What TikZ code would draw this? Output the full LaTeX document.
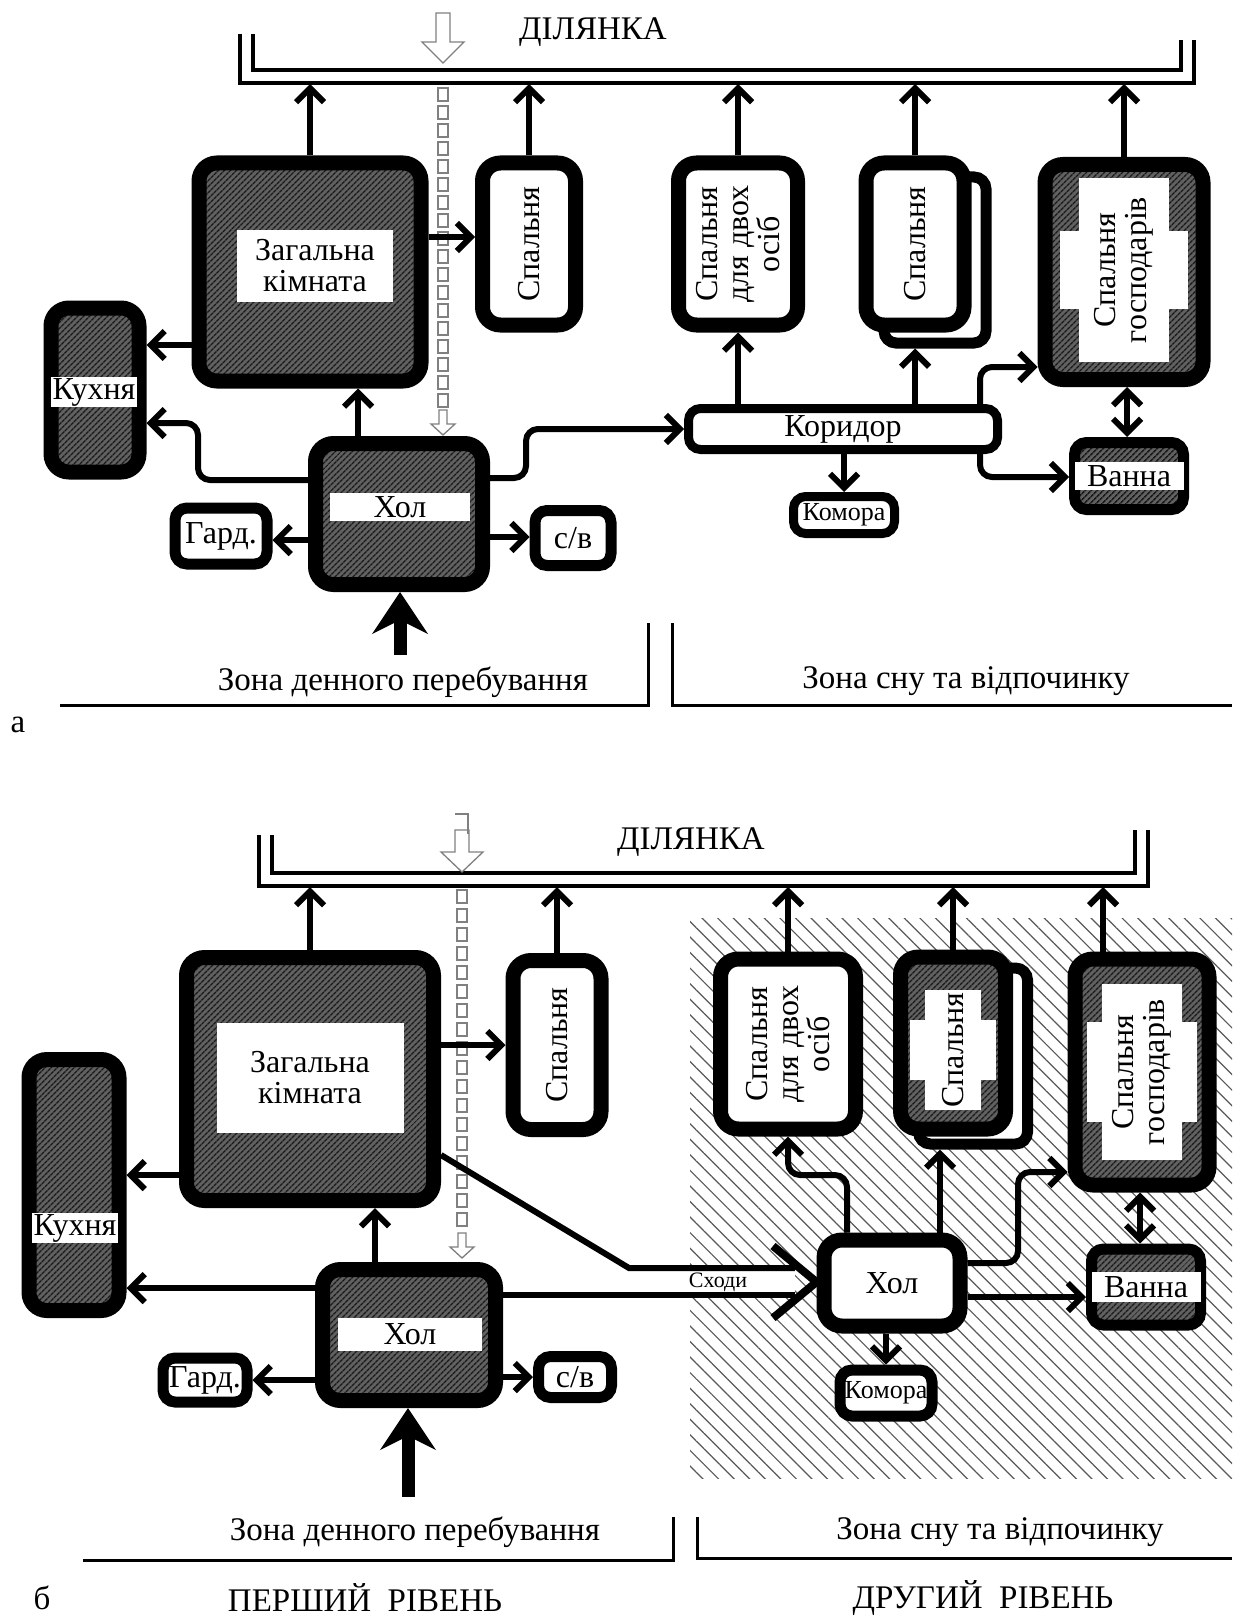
\documentclass[tikz,border=0pt]{standalone}
\usepackage{fontspec}
\setmainfont{Liberation Serif}
\usetikzlibrary{arrows.meta, patterns.meta, calc}

% white cross-shaped label field: centre, half widths/heights of both bars
\newcommand{\crosstag}[5]{%
  \fill[white] ($(#1)+(-#2,-#3)$) rectangle ($(#1)+(#2,#3)$);
  \fill[white] ($(#1)+(-#4,-#5)$) rectangle ($(#1)+(#4,#5)$);}

\begin{document}
\begin{tikzpicture}[
    x=1pt, y=-1pt, % one unit = one pixel, y downwards
    >={Straight Barb[length=14pt, width=28pt]}, % open arrow heads
    font=\fontsize{32}{31}\selectfont,
    room/.style={draw, line width=15pt, rounded corners=18pt, fill=white, inner sep=0pt, outer sep=7.5pt, align=center}, % room box
    smallroom/.style={room, line width=11pt, rounded corners=12pt, outer sep=5.5pt}, % small room
    thinroom/.style={room, line width=9pt, rounded corners=12pt, outer sep=4.5pt}, % corridor, store
    shaded/.style={preaction={fill=black!62}, pattern={Lines[angle=45, distance=4pt, line width=1.6pt]}, pattern color=black!90}, % dark hatching
    tag/.style={fill=white, inner xsep=2pt, inner ysep=1pt, align=center}, % white label field
    caption/.style={font=\fontsize{33}{33}\selectfont}, % zone and level titles
    small/.style={font=\fontsize{26}{26}\selectfont}, % store label
    link/.style={->, line width=6pt}, % connection
    entry/.style={-{Stealth[length=42pt, width=56pt, inset=14pt, line width=0pt]}, line width=13pt}, % main entrance
    site/.style={line width=3.5pt}, % plot boundary
    zone/.style={line width=3pt}, % zone lines
    ladder/.style={draw=black!50, line width=1.3pt} % stairs marks
]
\useasboundingbox[fill=white] (0,0) rectangle (1232,1616);

% ================= a =================
% plot boundary
\draw[site] (240,34) |- (1194,83) -- (1194,40);
\draw[site] (253,34) |- (1181,70) -- (1181,40);
\coordinate (siteA) at (0,84);
\node[caption] (siteAlbl) at (593,32) {ДІЛЯНКА};

% stairs
\draw[ladder] (436,13) -- (450,13) -- (450,42) -- (464,42) -- (443,63) -- (422,42) -- (436,42) -- cycle;
\foreach \y in {88,106,...,394}
    \draw[ladder] (438,\y) rectangle (448,\y+13);
\draw[ladder] (439,410) -- (447,410) -- (447,424) -- (455,424) -- (443,435) -- (431,424) -- (439,424) -- cycle;

% rooms
\node[room, shaded, minimum width=222, minimum height=218] (zagA) at (310,272) {};
\node[tag, minimum width=156, minimum height=72] (zagAtag) at (315,266) {Загальна\\кімната};
\node[room, minimum width=93, minimum height=162] (spA) at (529,244) {};
\node[rotate=90] (spAtxt) at (spA) {Спальня};
\node[room, minimum width=119, minimum height=162] (dvA) at (738,244) {};
\node[rotate=90, align=center] (dvAtxt) at (dvA) {Спальня\\для двох\\осіб};
\node[smallroom, minimum width=102, minimum height=166] (spbAback) at (935,260) {};
\node[room, minimum width=98, minimum height=162] (spbA) at (915,244) {};
\node[rotate=90] (spbAtxt) at (spbA) {Спальня};
\node[room, shaded, minimum width=158, minimum height=215] (gosA) at (1124,272) {};
\crosstag{1124,270}{45}{92}{64}{39}
\node[rotate=90, align=center] (gosAtxt) at (1124,270) {Спальня\\господарів};
\node[room, shaded, minimum width=88, minimum height=164] (kuA) at (95,390) {};
\node[tag] (kuAtag) at (94,392) {Кухня};
\node[room, shaded, minimum width=167, minimum height=141] (holA) at (399,514) {};
\node[tag, minimum width=140, minimum height=28] (holAtag) at (400,507) {Хол};
\node[smallroom, minimum width=92, minimum height=56] (gaA) at (221,536) {Гард.};
\node[smallroom, minimum width=76, minimum height=55] (svA) at (573,538) {с/в};
\node[thinroom, minimum width=309, minimum height=41] (korA) at (843,429) {Коридор};
\node[thinroom, small, minimum width=101, minimum height=37] (komA) at (844,515) {Комора};
\node[smallroom, shaded, minimum width=109, minimum height=67] (vaA) at (1129,476) {};
\node[tag, minimum width=109, minimum height=28] (vaAtag) at (1129,476) {Ванна};

% connections
\draw[link] (zagA.north) -- (zagA.north |- siteA);
\draw[link] (spA.north) -- (spA.north |- siteA);
\draw[link] (dvA.north) -- (dvA.north |- siteA);
\draw[link] (spbA.north) -- (spbA.north |- siteA);
\draw[link] (gosA.north) -- (gosA.north |- siteA);
\draw[link] (zagA.east |- 0,237) -- (spA.west |- 0,237);
\draw[link] (zagA.west |- 0,345) -- (kuA.east |- 0,345);
\draw[link] (holA.north -| 358,0) -- (zagA.south -| 358,0);
\draw[link, rounded corners=12pt] (holA.west |- 0,480) -- (198,480) -- (198,423) -- (kuA.east |- 0,423);
\draw[link] (holA.west |- 0,540) -- (gaA.east |- 0,540);
\draw[link] (holA.east |- 0,537) -- (svA.west |- 0,537);
\draw[link, rounded corners=12pt] (holA.east |- 0,478) -- (526,478) -- (526,429) -- (korA.west);
\draw[link] (dvA.south |- korA.north) -- (dvA.south);
\draw[link] (spbA.south |- korA.north) -- (spbA.south |- spbAback.south);
\draw[link, rounded corners=12pt] (korA.north -| 980,0) -- (980,367) -- (gosA.west |- 0,367);
\draw[link] (korA.south -| komA.north) -- (komA.north);
\draw[link, rounded corners=12pt] (korA.south -| 980,0) -- (980,477) -- (vaA.west |- 0,477);
\draw[link, <->] (gosA.south -| 1127,0) -- (vaA.north -| 1127,0);
\coordinate (doorA) at (400,655);
\draw[entry] (doorA) -- (holA.south -| doorA);

% zones
\draw[zone] (60,705) -- (648,705) -- (648,623);
\draw[zone] (672,623) -- (672,705) -- (1232,705);
\node[caption] (dayA) at (403,682) {Зона денного перебування};
\node[caption] (nightA) at (966,681) {Зона сну та відпочинку};
\node[caption] (partA) at (18,725) {а};

% ================= б =================
% second level area
\fill[pattern={Lines[angle=-45, distance=11pt, line width=1.2pt]}, pattern color=black!65] (690,918) rectangle (1232,1478);

% plot boundary
\draw[site] (259,835) |- (1148,886) -- (1148,830);
\draw[site] (272,835) |- (1135,873) -- (1135,830);
\coordinate (siteB) at (0,887);
\node[caption] (siteBlbl) at (691,842) {ДІЛЯНКА};

% stairs
\draw[ladder] (455,814) -- (468,814) -- (468,834);
\draw[ladder] (455,830) -- (469,830) -- (469,852) -- (483,852) -- (462,872) -- (441,852) -- (455,852) -- cycle;
\foreach \y in {890,909,...,1215}
    \draw[ladder] (457,\y) rectangle (467,\y+13);
\draw[ladder] (458,1233) -- (466,1233) -- (466,1247) -- (474,1247) -- (462,1258) -- (450,1247) -- (458,1247) -- cycle;

% rooms
\node[room, shaded, minimum width=247, minimum height=243] (zagB) at (310,1079) {};
\node[tag, minimum width=187, minimum height=110] (zagBtag) at (310,1078) {Загальна\\кімната};
\node[room, minimum width=88, minimum height=169] (spB) at (557,1045) {};
\node[rotate=90] (spBtxt) at (spB) {Спальня};
\node[room, minimum width=135, minimum height=170] (dvB) at (788,1044) {};
\node[rotate=90, align=center] (dvBtxt) at (dvB) {Спальня\\для двох\\осіб};
\node[smallroom, minimum width=109, minimum height=176] (spbBback) at (973,1056) {};
\node[room, shaded, minimum width=105, minimum height=172] (spbB) at (953,1043) {};
\crosstag{953,1050}{28}{60}{43}{30}
\node[rotate=90] (spbBtxt) at (953,1050) {Спальня};
\node[room, shaded, minimum width=134, minimum height=226] (gosB) at (1142,1072) {};
\crosstag{1142,1072}{40}{88}{55}{50}
\node[rotate=90, align=center] (gosBtxt) at (1142,1072) {Спальня\\господарів};
\node[room, shaded, minimum width=90, minimum height=251] (kuB) at (74,1185) {};
\node[tag] (kuBtag) at (75,1228) {Кухня};
\node[room, shaded, minimum width=173, minimum height=131] (holB) at (409,1335) {};
\node[tag, minimum width=144, minimum height=33] (holBtag) at (410,1334) {Хол};
\node[smallroom, minimum width=84, minimum height=44] (gaB) at (205,1380) {Гард.};
\node[smallroom, minimum width=73, minimum height=41] (svB) at (575,1377) {с/в};
\node[room, minimum width=136, minimum height=86] (holR) at (892,1283) {Хол};
\node[smallroom, small, minimum width=92, minimum height=46] (komB) at (886,1393) {Комора};
\node[smallroom, shaded, minimum width=109, minimum height=76] (vaB) at (1146,1287) {};
\node[tag, minimum width=109, minimum height=30] (vaBtag) at (1146,1287) {Ванна};

% connections
\draw[link] (zagB.north) -- (zagB.north |- siteB);
\draw[link] (spB.north) -- (spB.north |- siteB);
\draw[link] (dvB.north) -- (dvB.north |- siteB);
\draw[link] (spbB.north) -- (spbB.north |- siteB);
\draw[link] (gosB.north -| 1103,0) -- (1103,0 |- siteB);
\draw[link] (zagB.east |- 0,1045) -- (spB.west |- 0,1045);
\draw[link] (zagB.west |- 0,1175) -- (kuB.east |- 0,1175);
\draw[link] (holB.north -| 375,0) -- (zagB.south -| 375,0);
\draw[link] (holB.west |- 0,1288) -- (kuB.east |- 0,1288);
\draw[link] (holB.west |- 0,1380) -- (gaB.east |- 0,1380);
\draw[link] (holB.east |- 0,1377) -- (svB.west |- 0,1377);
\coordinate (doorB) at (408,1497);
\draw[entry] (doorB) -- (holB.south -| doorB);

% stairs between the levels
\fill[white] (629,1268) rectangle (795,1295);
\draw[line width=6pt] (zagB.east |- 0,1155) -- (629,1268) -- (795,1268);
\draw[line width=6pt] (holB.east |- 0,1295) -- (795,1295);
\draw[line width=8pt] (773,1246) -- (holR.west |- 0,1282) -- (773,1318);
\node[font=\fontsize{22}{22}\selectfont, inner sep=1pt] (stairsB) at (718,1282) {Сходи};

\draw[link, rounded corners=12pt] (holR.north -| 847,0) -- (847,1175) -- (788,1175) -- (dvB.south -| 788,0);
\draw[link] (holR.north -| 940,0) -- (spbBback.south -| 940,0);
\draw[link, rounded corners=12pt] (holR.east |- 0,1263) -- (1018,1263) -- (1018,1172) -- (gosB.west |- 0,1172);
\draw[link] (holR.east |- 0,1297) -- (vaB.west |- 0,1297);
\draw[link] (holR.south -| komB.north) -- (komB.north);
\draw[link, <->] (gosB.south -| 1140,0) -- (vaB.north -| 1140,0);

% zones
\draw[zone] (83,1560) -- (673,1560) -- (673,1517);
\draw[zone] (697,1517) -- (697,1558) -- (1232,1558);
\node[caption] (dayB) at (415,1532) {Зона денного перебування};
\node[caption] (nightB) at (1000,1532) {Зона сну та відпочинку};
\node[caption] (partB) at (42,1598) {б};
\node[caption] (levelI) at (365,1598) {ПЕРШИЙ\ \ РІВЕНЬ};
\node[caption] (levelII) at (983,1598) {ДРУГИЙ\ \ РІВЕНЬ};
\end{tikzpicture}
\end{document}
